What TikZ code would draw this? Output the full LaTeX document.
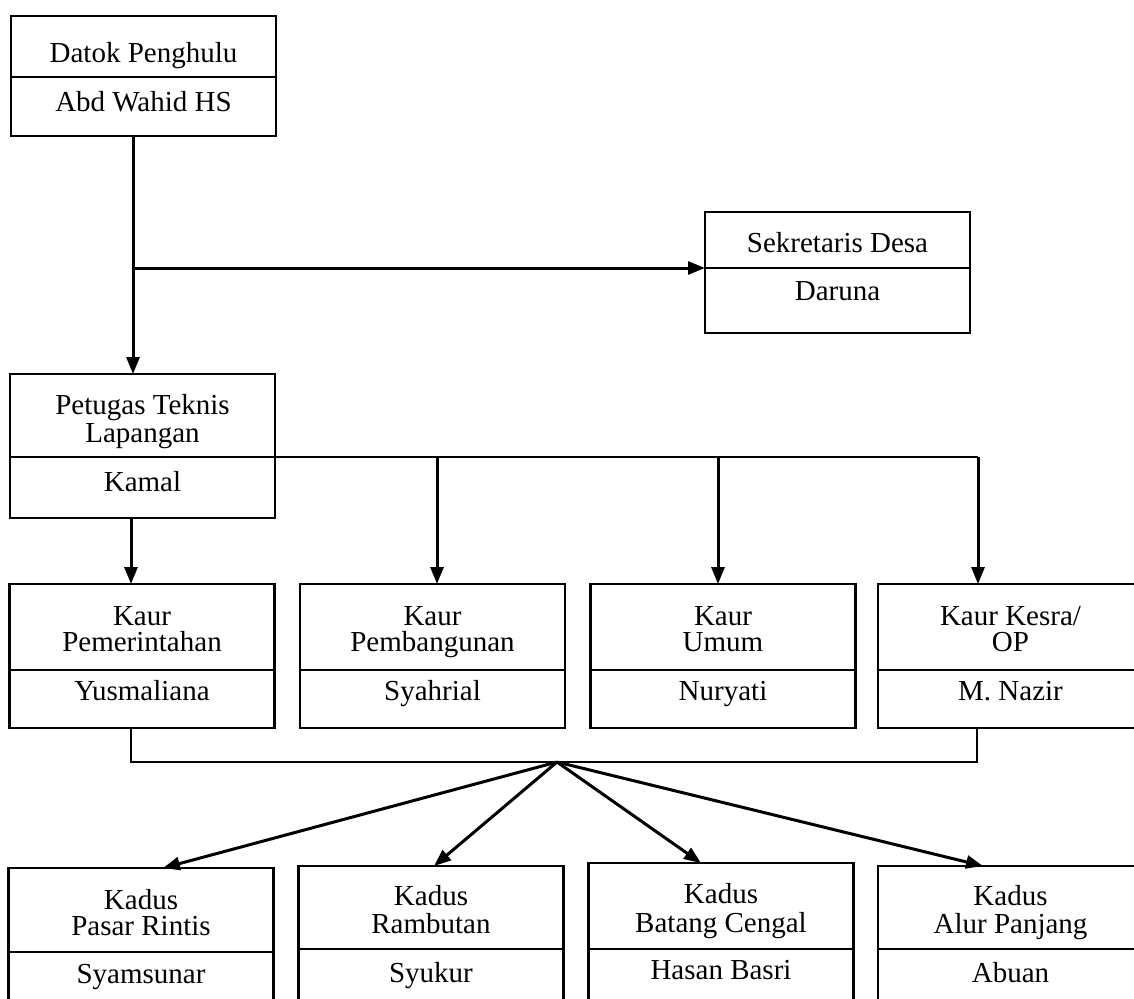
\documentclass[tikz,border=0pt]{standalone}
\usepackage{fontspec}
\setmainfont{Liberation Serif}
\usetikzlibrary{arrows.meta}
\begin{document}
\begin{tikzpicture}[x=0.5pt,y=-0.5pt,
  box/.style={draw, line width=1.2pt, rectangle, inner sep=0pt, outer sep=0pt, minimum width=132.5pt},
  div/.style={line width=1.2pt},
  lbl/.style={anchor=base, inner sep=0pt, font=\fontsize{14.5}{14}\selectfont},
  conn/.style={line width=1.4pt},
  arr/.style={line width=1.5pt, -{Triangle[length=8.5pt,width=6.5pt]}},
  brk/.style={line width=1pt}]
\useasboundingbox (0,0) rectangle (1134,998);
\clip (0,0) rectangle (1134,998);
% --- Datok Penghulu
\node[box, minimum height=60pt] (top) at (143.5,76) {};
\draw[div] (11,77) -- (276,77);
\node[lbl] (t1) at (143.5,62) {Datok Penghulu};
\node[lbl] (t2) at (143.5,111) {Abd Wahid HS};
% --- Sekretaris
\node[box, minimum height=60.5pt] (sek) at (837.5,272.5) {};
\draw[div] (705,268) -- (970,268);
\node[lbl] (s1) at (837.5,252) {Sekretaris Desa};
\node[lbl] (s2) at (837.5,300) {Daruna};
% --- Petugas
\node[box, minimum height=72pt] (pet) at (142.5,446) {};
\draw[div] (10,457) -- (275,457);
\node[lbl] (p1) at (142.5,414) {Petugas Teknis};
\node[lbl] (p2) at (142.5,442) {Lapangan};
\node[lbl] (p3) at (142.5,491) {Kamal};
% --- Kaur
\node[box, minimum height=72pt] (k1) at (142,656) {};
\node[box, minimum height=72pt] (k2) at (432.5,656) {};
\node[box, minimum height=72pt] (k3) at (723,656) {};
\node[box, minimum height=72pt] (k4) at (1010.5,656) {};
\draw[div] (9.5,670) -- (275,670);
\draw[div] (300,670) -- (565,670);
\draw[div] (591,670) -- (855,670);
\draw[div] (878,670) -- (1143,670);
\node[lbl] (k1a) at (142,625) {Kaur};
\node[lbl] (k1b) at (142,651) {Pemerintahan};
\node[lbl] (k1c) at (142,700) {Yusmaliana};
\node[lbl] (k2a) at (432.5,625) {Kaur};
\node[lbl] (k2b) at (432.5,651) {Pembangunan};
\node[lbl] (k2c) at (432.5,700) {Syahrial};
\node[lbl] (k3a) at (723,625) {Kaur};
\node[lbl] (k3b) at (723,651) {Umum};
\node[lbl] (k3c) at (723,700) {Nuryati};
\node[lbl] (k4a) at (1010.5,625) {Kaur Kesra/};
\node[lbl] (k4b) at (1010.5,651) {OP};
\node[lbl] (k4c) at (1010.5,700) {M. Nazir};
% --- Kadus
\node[box, minimum height=76pt] (d1) at (141,944) {};
\node[box, minimum height=77pt] (d2) at (431,943) {};
\node[box, minimum height=78.5pt] (d3) at (721,941.5) {};
\node[box, minimum height=77pt] (d4) at (1010.5,943) {};
\draw[div] (9,952) -- (273,952);
\draw[div] (299,949) -- (563,949);
\draw[div] (589,949) -- (853,949);
\draw[div] (878,949) -- (1143,949);
\node[lbl] (d1a) at (141,909) {Kadus};
\node[lbl] (d1b) at (141,935) {Pasar Rintis};
\node[lbl] (d1c) at (141,983) {Syamsunar};
\node[lbl] (d2a) at (431,905) {Kadus};
\node[lbl] (d2b) at (431,933) {Rambutan};
\node[lbl] (d2c) at (431,982) {Syukur};
\node[lbl] (d3a) at (721,903) {Kadus};
\node[lbl] (d3b) at (721,932) {Batang Cengal};
\node[lbl] (d3c) at (721,979) {Hasan Basri};
\node[lbl] (d4a) at (1010.5,905) {Kadus};
\node[lbl] (d4b) at (1010.5,933) {Alur Panjang};
\node[lbl] (d4c) at (1010.5,982) {Abuan};
% --- connectors
\coordinate (j1) at (133,268);
\draw[arr] (top.south -| j1) -- (pet.north -| j1);
\draw[arr] (j1) -- (sek.west |- j1);
\coordinate (hb) at (978,457);
\coordinate (c1) at (131,457);
\coordinate (c2) at (437,457);
\coordinate (c3) at (718,457);
\draw[conn] (pet.east |- hb) -- (hb);
\draw[arr] (pet.south -| c1) -- (k1.north -| c1);
\draw[arr] (c2) -- (k2.north -| c2);
\draw[arr] (c3) -- (k3.north -| c3);
\draw[arr] (hb) -- (k4.north -| hb);
% --- bracket and kadus arrows
\coordinate (hub) at (557,762);
\coordinate (bl) at (131,762);
\coordinate (br) at (977,762);
\draw[brk] (k1.south -| bl) -- (bl) -- (br) -- (k4.south -| br);
\coordinate (x1) at (163,0);
\coordinate (x2) at (434,0);
\coordinate (x3) at (701,0);
\coordinate (x4) at (983,0);
\draw[arr] (hub) -- (d1.north -| x1);
\draw[arr] (hub) -- (d2.north -| x2);
\draw[arr] (hub) -- (d3.north -| x3);
\draw[arr] (hub) -- (d4.north -| x4);
\end{tikzpicture}
\end{document}
